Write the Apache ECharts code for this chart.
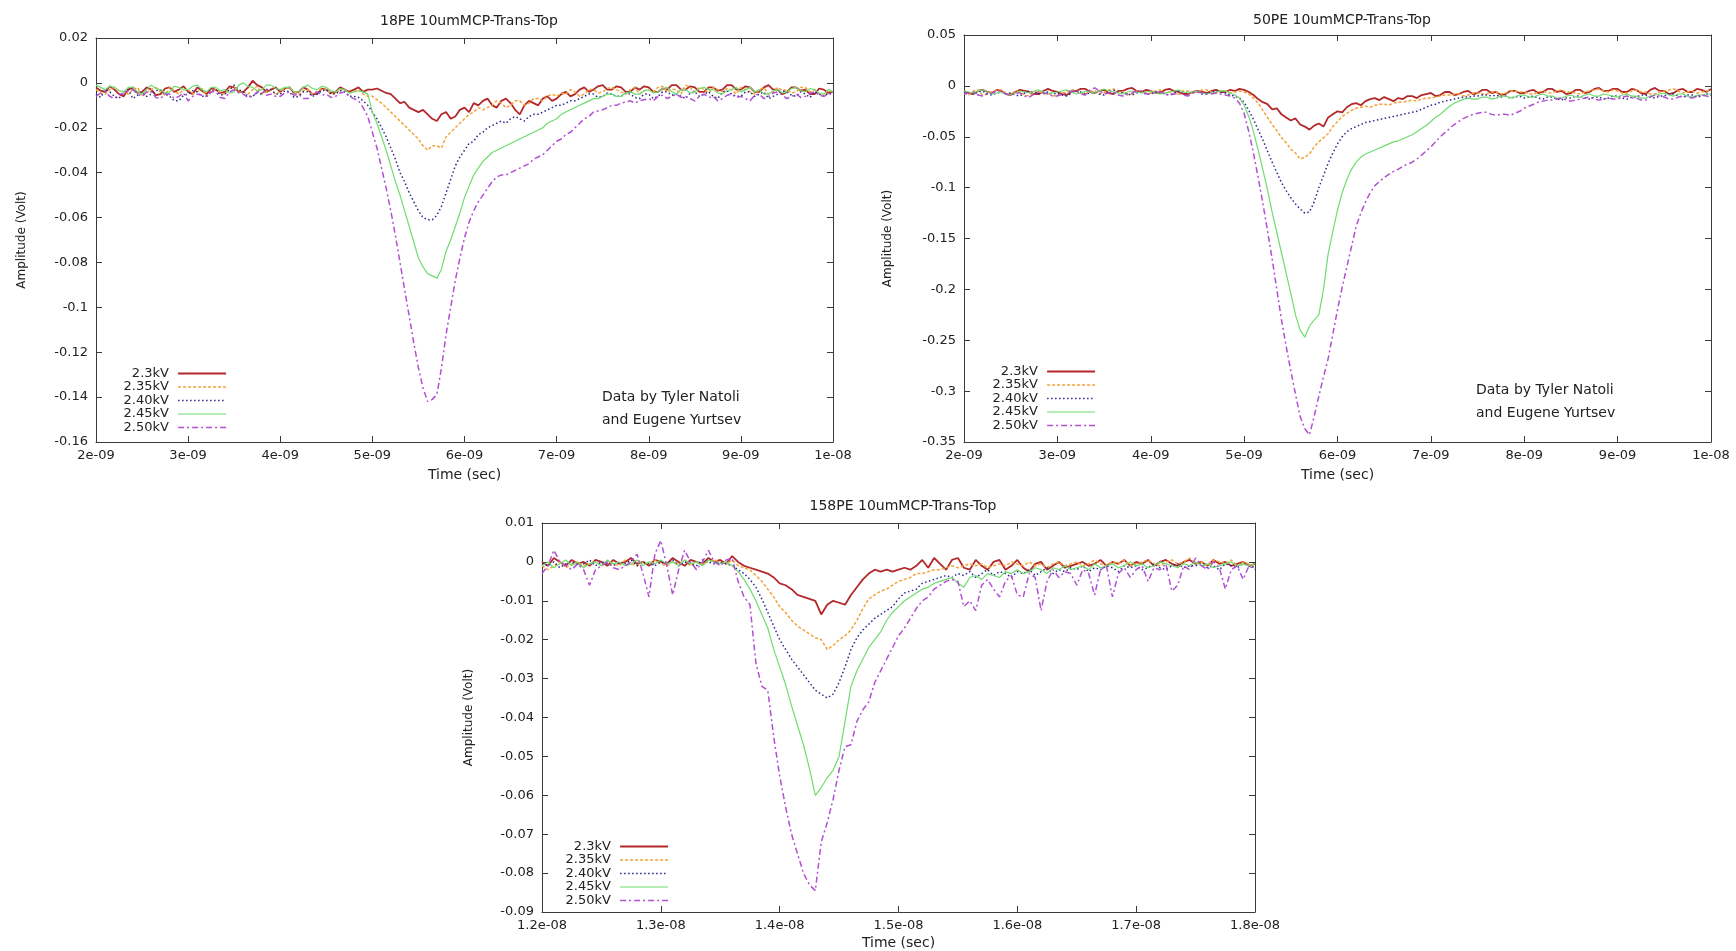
<!DOCTYPE html>
<html>
<head>
<meta charset="utf-8">
<title>10umMCP-Trans-Top pulses</title>
<script src="https://cdn.jsdelivr.net/npm/echarts@6/dist/echarts.min.js"></script>
<style>
  html, body { margin: 0; padding: 0; background: #fff; }
  #chart { width: 1736px; height: 951px; }
</style>
</head>
<body>
<div id="chart"></div>
<script>
// sample times in ns, amplitudes in mV
const timeTop = [2.00,2.05,2.10,2.15,2.20,2.25,2.30,2.35,2.40,2.45,2.50,2.55,2.60,2.65,2.70,2.75,2.80,2.85,2.90,2.95,
  3.00,3.05,3.10,3.15,3.20,3.25,3.30,3.35,3.40,3.45,3.50,3.55,3.60,3.65,3.70,3.75,3.80,3.85,3.90,3.95,
  4.00,4.05,4.10,4.15,4.20,4.25,4.30,4.35,4.40,4.45,4.50,4.55,4.60,4.65,4.70,4.75,4.80,4.85,4.90,4.95,
  5.00,5.05,5.10,5.15,5.20,5.25,5.30,5.35,5.40,5.45,5.50,5.55,5.60,5.65,5.70,5.75,5.80,5.85,5.90,5.95,
  6.00,6.05,6.10,6.15,6.20,6.25,6.30,6.35,6.40,6.45,6.50,6.55,6.60,6.65,6.70,6.75,6.80,6.85,6.90,6.95,
  7.00,7.05,7.10,7.15,7.20,7.25,7.30,7.35,7.40,7.45,7.50,7.55,7.60,7.65,7.70,7.75,7.80,7.85,7.90,7.95,
  8.00,8.05,8.10,8.15,8.20,8.25,8.30,8.35,8.40,8.45,8.50,8.55,8.60,8.65,8.70,8.75,8.80,8.85,8.90,8.95,
  9.00,9.05,9.10,9.15,9.20,9.25,9.30,9.35,9.40,9.45,9.50,9.55,9.60,9.65,9.70,9.75,9.80,9.85,9.90,9.95,10.00];

const timeBottom = [12.00,12.05,12.10,12.15,12.20,12.25,12.30,12.35,12.40,12.45,
  12.50,12.55,12.60,12.65,12.70,12.75,12.80,12.85,12.90,12.95,
  13.00,13.05,13.10,13.15,13.20,13.25,13.30,13.35,13.40,13.45,
  13.50,13.55,13.60,13.65,13.70,13.75,13.80,13.85,13.90,13.95,
  14.00,14.05,14.10,14.15,14.20,14.25,14.30,14.35,14.40,14.45,
  14.50,14.55,14.60,14.65,14.70,14.75,14.80,14.85,14.90,14.95,
  15.00,15.05,15.10,15.15,15.20,15.25,15.30,15.35,15.40,15.45,
  15.50,15.55,15.60,15.65,15.70,15.75,15.80,15.85,15.90,15.95,
  16.00,16.05,16.10,16.15,16.20,16.25,16.30,16.35,16.40,16.45,
  16.50,16.55,16.60,16.65,16.70,16.75,16.80,16.85,16.90,16.95,
  17.00,17.05,17.10,17.15,17.20,17.25,17.30,17.35,17.40,17.45,
  17.50,17.55,17.60,17.65,17.70,17.75,17.80,17.85,17.90,17.95,18.00];

const voltages = ['2.3kV', '2.35kV', '2.40kV', '2.45kV', '2.50kV'];

// 18PE
const pe18_230 = [-2,-3.5,-4,-1.5,-3,-5,-6,-3,-2,-4.5,
  -4,-2,-3,-5.5,-5,-2.5,-2,-4,-3,-1.5,
  -4,-5,-2,-3.5,-5,-2.5,-3,-4.5,-4,-1.5,
  -2,-4,-4,-2,1,-1,-2,-4,-3,-2,
  -4,-2.5,-2,-4.5,-4,-2,-3,-5,-5,-2.5,
  -3,-4.5,-4,-2,-3,-4,-3,-2,-4,-3,
  -3,-2.5,-3.5,-4.5,-5,-7,-9,-8.5,-11,-12,
  -13,-12,-14,-16,-17,-14,-13,-16,-15,-12,
  -11,-13,-9,-10,-8,-7,-10,-11,-8,-7,
  -9,-12,-14,-10,-8,-9,-10,-7,-6,-8,
  -7,-5,-4,-6,-5,-3,-2,-4,-3,-1.5,
  -1,-3,-3,-1.5,-2,-4,-4,-2,-3,-1.5,
  -2,-4,-4,-2.5,-3,-1,-1,-3,-3,-1.5,
  -2,-4,-4,-2,-2,-3.5,-3,-1,-1,-3,
  -3,-1.5,-2,-4,-4,-2,-1,-3,-3,-5,
  -4,-2,-2,-3.5,-3,-5,-5,-2.5,-3,-4.5,-4];
const pe18_235 = [-3,-4.5,-5,-3,-2,-3.5,-4,-5,-3,-2,
  -6,-4.5,-3,-2,-4,-5.5,-2,-3.5,-5,-3,
  -3,-5,-4,-2.5,-6,-4,-3,-4.5,-5,-2.5,
  -2,-3.5,-4,-5,-3,-1.5,-5,-4,-3,-5,
  -4,-2.5,-2,-4,-5,-3.5,-3,-5,-4,-2.5,
  -3,-4.5,-5,-3,-3,-4.5,-4,-3,-5,-6,
  -6,-7.5,-9,-11,-13,-15,-17,-19,-21,-23,
  -25,-28,-30,-28,-28,-29,-24,-22,-20,-18,
  -16,-14,-13,-11,-12,-11,-10,-8,-9,-11,
  -10,-8,-8,-10,-9,-7,-7,-8,-6,-5,
  -6,-4.5,-5,-3,-4,-6,-5,-3,-3,-4.5,
  -4,-2.5,-2,-3,-4,-5,-3,-2,-5,-3.5,
  -3,-4,-2,-1.5,-4,-3,-3,-5,-1,-2,
  -4,-2,-3,-4.5,-2,-3,-4,-2.5,-3,-5,
  -2,-3,-4,-5,-3,-2,-5,-4,-2,-3.5,
  -3,-4.5,-4,-2,-2,-4,-3,-5,-6,-4,-3];
const pe18_240 = [-5,-6.5,-3,-4,-6,-7,-4,-3,-7,-5.5,
  -4,-6,-5,-3.5,-3,-5,-6,-8,-8,-5.5,
  -5,-3.5,-4,-6,-6,-4,-3,-5.5,-5,-3,
  -1,-3,-4,-6,-6,-4.5,-5,-3,-3,-5,
  -5,-3.5,-4,-6.5,-6,-4,-4,-6,-5,-3.5,
  -3,-5,-5,-3.5,-4,-6,-6,-6.5,-8,-10,
  -13,-16,-20,-24,-29,-34,-40,-44,-49,-53,
  -57,-60,-61,-61,-59,-55,-49,-43,-37,-33,
  -30,-27,-26,-23,-22,-20,-19,-18,-17,-18,
  -16,-15,-16,-17,-15,-14,-14,-13,-12,-11,
  -10,-10,-9,-8,-8,-7,-6,-5,-5,-6.5,
  -6,-4.5,-5,-6,-6,-4.5,-5,-6.5,-7,-5,
  -5,-7,-6,-4,-4,-5.5,-5,-6,-7,-4.5,
  -4,-6,-5,-4,-6,-7,-4,-3.5,-5,-6,
  -6,-4,-4,-6,-5,-4,-7,-6,-5,-3.5,
  -4,-5.5,-6,-4,-5,-6.5,-4,-5,-6,-4.5,-5];
const pe18_245 = [-1,-2,-3,-1.5,-2,-3.5,-4,-2,-2,-4,
  -5,-3,-1,-2.5,-3,-4.5,-4,-1.5,-2,-3,
  -3,-1.5,-1,-3,-4,-2,-2,-3.5,-3,-4.5,
  -4,-1,0,-1.5,-2,-3.5,-3,-1,-1,-2.5,
  -3,-2,-2,-4,-4,-2,-1,-2.5,-3,-1.5,
  -2,-3.5,-4,-2.5,-3,-4.5,-4,-3.5,-4,-5,
  -13,-18,-24,-30,-37,-44,-50,-57,-64,-71,
  -78,-82,-85,-86,-87,-83,-75,-70,-64,-58,
  -51,-46,-41,-38,-35,-33,-31,-30,-29,-28,
  -27,-26,-25,-24,-23,-22,-21,-20,-18,-17,
  -16,-14,-13,-12,-11,-10,-9,-8,-7,-7,
  -6,-5,-5,-6,-6,-4.5,-4,-5,-5,-3.5,
  -3,-4.5,-4,-2.5,-2,-4,-5,-3,-3,-4.5,
  -4,-2.5,-2,-3,-3,-4.5,-5,-3.5,-3,-2,
  -4,-3,-2,-4,-3,-5,-5,-3.5,-3,-4.5,
  -4,-2.5,-2,-3.5,-4,-2.5,-3,-4.5,-5,-3,-4];
const pe18_250 = [-6,-4.5,-4,-6,-7,-5,-5,-3.5,-3,-5,
  -6,-4,-4,-6.5,-7,-5,-5,-7,-6,-4.5,
  -8,-6,-5,-5.5,-6,-4,-4,-6.5,-7,-4,
  -3,-4.5,-5,-6.5,-6,-4,-4,-5.5,-5,-6,
  -6,-4.5,-4,-5.5,-5,-7,-7,-5,-4,-5.5,
  -5,-6.5,-6,-4.5,-4,-6,-7,-8,-11,-15,
  -22,-29,-38,-47,-57,-68,-80,-92,-104,-116,
  -127,-136,-142,-141,-139,-127,-112,-100,-88,-78,
  -69,-62,-57,-53,-50,-47,-44,-42,-41,-41,
  -40,-39,-38,-37,-36,-34,-33,-32,-30,-28,
  -26,-25,-23,-22,-20,-18,-16,-15,-13,-12.5,
  -12,-11,-10,-10,-9,-8.5,-8,-9,-8,-7.5,
  -7,-8,-6,-5.5,-7,-6,-5,-6.5,-6,-7,
  -8,-6,-5,-6.5,-6,-8,-7,-5.5,-5,-6.5,
  -6,-7,-8,-5.5,-5,-7,-6,-4.5,-4,-5.5,
  -7,-6,-5,-6.5,-6,-4.5,-4,-5.5,-6,-5,-5];

// 50PE
const pe50_230 = [-5,-7,-8,-5,-4,-6,-7,-4,-5,-8,
  -9,-6,-4,-5,-6,-8,-8,-5,-3,-5,
  -6,-8,-9,-6,-5,-3,-3,-6,-7,-5,
  -4,-7,-8,-5,-5,-3,-2,-5,-6,-4,
  -5,-7,-7,-4,-3,-5,-6,-8,-8,-6,
  -5,-6,-7,-5,-4,-6,-6,-4,-5,-3,
  -4,-6,-9,-13,-16,-18,-23,-22,-28,-31,
  -34,-32,-38,-40,-43,-39,-37,-40,-31,-28,
  -25,-26,-21,-18,-17,-19,-15,-13,-12,-14,
  -11,-13,-15,-12,-13,-10,-10,-12,-9,-8,
  -7,-10,-9,-6,-6,-9,-8,-6,-5,-8,
  -7,-4,-4,-7,-6,-9,-8,-5,-5,-7,
  -7,-5,-4,-7,-6,-3,-3,-6,-5,-8,
  -7,-4,-4,-7,-6,-3,-2,-5,-5,-3,
  -3,-6,-6,-3,-4,-7,-8,-4,-2,-5,
  -5,-8,-7,-4,-3,-6,-6,-3,-4,-6,-3];
const pe50_235 = [-7,-9,-5,-4,-9,-8,-6,-4,-4,-7,
  -8,-5,-6,-9,-10,-7,-5,-8,-7,-10,
  -9,-7,-6,-4,-4,-7,-8,-5,-5,-8,
  -7,-4,-3,-6,-6,-9,-8,-5,-5,-7,
  -7,-5,-4,-7,-6,-8,-8,-5,-5,-7,
  -6,-4,-4,-6,-7,-5,-5,-7,-6,-5,
  -6,-8,-12,-17,-24,-31,-38,-44,-51,-56,
  -62,-66,-72,-70,-67,-60,-55,-51,-47,-40,
  -35,-30,-27,-24,-22,-21,-20,-21,-19,-18,
  -18,-19,-17,-16,-16,-15,-14,-15,-13,-12,
  -12,-11,-10,-9,-9,-8,-8,-10,-9,-7,
  -7,-8,-8,-6,-6,-8,-7,-5,-5,-6,
  -6,-8,-8,-6,-5,-7,-7,-5,-4,-6,
  -6,-7,-8,-6,-5,-4,-3,-5,-6,-4,
  -5,-7,-7,-5,-4,-6,-6,-8,-8,-6,
  -5,-4,-3,-5,-7,-6,-5,-7,-6,-5,-4];
const pe50_240 = [-6,-7,-8,-6,-5,-8,-9,-7,-6,-8,
  -7,-9,-10,-7,-5,-6,-8,-7,-6,-8,
  -7,-9,-10,-7,-5,-6,-8,-7,-6,-8,
  -9,-6,-4,-6,-7,-8,-9,-7,-6,-8,
  -8,-6,-6,-8,-9,-7,-5,-6,-7,-6,
  -6,-8,-8,-6,-5,-6,-7,-9,-10,-12,
  -16,-24,-33,-43,-53,-64,-75,-85,-95,-103,
  -110,-116,-121,-125,-124,-114,-100,-88,-76,-66,
  -57,-50,-45,-42,-40,-38,-36,-35,-34,-33,
  -32,-31,-30,-29,-28,-27,-26,-25,-23,-21,
  -19,-18,-16,-15,-14,-13,-12,-11,-11,-10,
  -10,-9,-9,-10,-9,-11,-10,-12,-11,-10,
  -12,-11,-10,-12,-13,-11,-11,-13,-14,-12,
  -12,-10,-10,-12,-13,-11,-11,-13,-12,-10,
  -10,-12,-13,-11,-11,-9,-9,-11,-12,-10,
  -10,-8,-8,-10,-11,-9,-9,-11,-10,-8,-9];
const pe50_245 = [-5,-6,-7,-5,-4,-6,-8,-7,-6,-8,
  -9,-7,-5,-6,-7,-5,-4,-6,-8,-7,
  -6,-5,-4,-6,-8,-7,-5,-6,-7,-5,
  -3,-5,-6,-7,-8,-6,-5,-6,-7,-6,
  -5,-7,-8,-7,-6,-5,-4,-6,-7,-6,
  -5,-7,-8,-7,-6,-5,-5,-7,-9,-12,
  -19,-30,-45,-63,-82,-102,-124,-144,-164,-184,
  -204,-225,-240,-247,-236,-230,-225,-200,-165,-143,
  -122,-105,-92,-82,-75,-70,-67,-65,-63,-61,
  -59,-57,-55,-54,-52,-50,-48,-45,-42,-39,
  -35,-31,-28,-24,-20,-17,-15,-13,-12,-13,
  -13,-11,-11,-13,-12,-10,-10,-12,-11,-9,
  -9,-11,-11,-9,-8,-10,-10,-12,-12,-10,
  -9,-11,-11,-9,-8,-10,-10,-8,-9,-10,
  -11,-9,-8,-10,-10,-12,-12,-10,-9,-8,
  -7,-9,-10,-8,-8,-10,-11,-9,-9,-8,-8];
const pe50_250 = [-8,-7,-6,-9,-10,-8,-7,-5,-5,-8,
  -9,-7,-7,-10,-11,-8,-6,-7,-8,-10,
  -10,-8,-7,-5,-5,-8,-9,-4,-2,-5,
  -8,-7,-6,-9,-10,-8,-7,-5,-5,-8,
  -8,-6,-6,-8,-9,-8,-7,-9,-10,-7,
  -6,-7,-8,-8,-7,-8,-9,-10,-12,-17,
  -27,-45,-66,-90,-115,-142,-170,-200,-230,-256,
  -280,-303,-325,-337,-343,-325,-305,-286,-268,-244,
  -220,-198,-178,-158,-138,-125,-114,-105,-98,-94,
  -90,-87,-84,-82,-79,-77,-75,-72,-68,-64,
  -60,-55,-50,-46,-42,-38,-35,-32,-30,-28,
  -27,-26,-26,-28,-29,-28,-28,-29,-27,-25,
  -22,-20,-18,-16,-15,-14,-14,-13,-12,-14,
  -15,-14,-13,-12,-11,-13,-14,-13,-12,-13,
  -13,-11,-10,-12,-12,-14,-14,-11,-9,-10,
  -11,-13,-13,-11,-10,-11,-12,-10,-9,-10,-11];

// 158PE
const pe158_230 = [0,-1,1,0,-1,0.5,-0.5,0,-1,0.5,
  0,-1,0.5,-0.5,0,1,-0.5,0,-1,0.5,
  0,-0.5,1,0,-1,0.5,0,-0.5,1,0,
  0.5,-0.5,1.5,0,-1,-1.5,-2,-2.5,-3,-4,
  -5.5,-6,-7,-8.5,-9,-9.5,-10,-13.5,-11,-10,
  -10.5,-11,-8.5,-6.5,-4.5,-3,-2,-2.5,-2,-2.5,
  -2,-1.5,-2,-1,0.5,-1.5,1,-0.5,-2,0.5,
  1,-1.5,-2,0.5,-1,-2,0,0.5,-2,-1,
  0.5,-1.5,-2.5,-0.5,0,-2,-1,0,-1.5,-1,
  -0.5,0,-1,-0.5,0.5,-1,0,-0.5,0.5,-1,
  0,-0.5,0.5,-1,0,0.5,-0.5,-1,0,0.5,
  -0.5,0,-1,0.5,-0.5,0,-1,-0.5,0,-1,-0.5];
const pe158_235 = [-1,-2,-1,0,-1.5,-0.5,0,-1,-0.5,0,
  -1,0,-0.5,-1,0.5,-0.5,-1,0,-0.5,0.5,
  -0.5,-1,0,-0.5,0.5,-1,0,-0.5,0,0.5,
  0,-0.5,0.5,-1,-1.5,-2,-3.5,-5,-7,-9,
  -11.5,-13,-15,-16.5,-17.5,-18.5,-19.5,-20,-22.5,-21.5,
  -20,-19,-17.5,-15,-12,-9.5,-8.5,-7.5,-7,-6,
  -5,-4.5,-4,-3,-3,-2.5,-2,-2,-1.5,-1,
  -1.5,-1,-0.5,-1,-0.5,-1.5,-1,-0.5,-1,0,
  -0.5,-1,0,-1,-0.5,-1.5,-0.5,0,-1,-0.5,
  0,-1,-0.5,0.5,-0.5,-1,0,-0.5,0.5,-1,
  -0.5,0,0.5,-0.5,-1,0,0.5,-0.5,0,1,
  -0.5,0,-1,0.5,0,-0.5,0.5,-1,0,-0.5,-1];
const pe158_240 = [-0.5,-1,0,-1.5,-0.5,0,-1,-0.5,0.5,-1,
  0,-0.5,-1,0,-0.5,0.5,-1,0,-0.5,-1,
  0,-0.5,0.5,-1,0,-0.5,-1,0.5,0,-0.5,
  0,-0.5,-1,-2,-3,-4.5,-6.5,-9.5,-13,-16.5,
  -20,-22.5,-25,-27,-29,-31,-33,-34,-35,-34,
  -31,-27,-22.5,-19.5,-17.5,-16,-14.5,-13.5,-12.5,-11.5,
  -9.5,-8,-7.5,-7,-5.5,-5,-4.5,-4,-3.5,-4,
  -3,-3.5,-2.5,-4,-3,-2,-3.5,-2.5,-3,-4,
  -2.5,-3,-2,-3.5,-2.5,-1.5,-3,-2,-2.5,-1.5,
  -2,-1,-2.5,-1.5,-2,-1,-1.5,-2.5,-1,-1.5,
  -1,-2,-1.5,-0.5,-1.5,-2,-1,-0.5,-1.5,-1,
  -1,-0.5,-1.5,-1,-2,-0.5,-1,-1.5,-0.5,-1,-1.5];
const pe158_245 = [-1,0,-1.5,-0.5,0.5,-1,0,-1.5,-0.5,0,
  -1,0.5,-0.5,0,-1,-0.5,0.5,-1,0,-0.5,
  0.5,-0.5,0,-1,0.5,-0.5,0,-1,0.5,0,
  -0.5,0,-1,-2.5,-4.5,-7,-10,-13.5,-17,-22.5,
  -27,-31.5,-37,-42,-47,-53,-60,-58,-55.5,-53.5,
  -50,-41,-32,-28,-25,-22,-20,-18,-15,-13,
  -11.5,-10,-9,-8,-7,-6.5,-5.5,-5,-4.5,-4,
  -5.5,-6.5,-4,-3.5,-4.5,-3,-3.5,-4,-2.5,-3,
  -2,-3,-2.5,-1.5,-2,-3,-1.5,-2,-1,-2,
  -1.5,-1,-2,-0.5,-1.5,-1,-0.5,-1.5,-1,0,
  -1,-0.5,-1.5,-1,0,-0.5,-1,-1.5,-0.5,-1,
  0,-1,-0.5,-1.5,-1,-0.5,0,-1,-0.5,-1,-0.5];
const pe158_250 = [-3,-1,3,0,-1,-2,-0.5,-2,-6,-2,
  -1,0,-1.5,-2,-1,0,2,-3,-9,2,
  5.5,-1,-8.5,-2,3,0,-2,0,3,0,
  -1,0.5,1,-5,-9,-11,-26,-32,-33,-45,
  -55,-63,-70,-75,-80,-83,-84.5,-72,-67,-61,
  -53.5,-47.5,-47,-41,-38,-36,-31,-28,-25,-22,
  -19,-17,-14.5,-12,-10,-9,-7,-6,-5,-4.5,
  -5,-11.5,-10,-12.5,-6,-4.5,-7,-9,-5,-3.5,
  -8.5,-9,-3,-4,-12.5,-5,-2,-4,-2.5,-3,
  -6,-2,-3,-8.5,-2,-1,-9,-3,-1.5,-4,
  -2,-1,-5,-1.5,-2,-0.5,-7.5,-6,-1,-2,
  1,-1,-2,0,-1.5,-7,-2,-1,-4.5,-1,-2];

// gnuplot-like line styles, one per voltage
const lineStyles = [
  { color: '#b3282a', width: 1.8, type: 'solid' },
  { color: '#f4a236', width: 1.5, type: [3, 2] },
  { color: '#262a8e', width: 1.5, type: [1.5, 2.5] },
  { color: '#6fdc6f', width: 1.2, type: 'solid' },
  { color: '#b24fd2', width: 1.5, type: [6, 3, 2, 3] }
];

const panels = [
  {
    title: '18PE 10umMCP-Trans-Top', time: timeTop,
    values: [pe18_230, pe18_235, pe18_240, pe18_245, pe18_250],
    grid: { left: 96, top: 38, width: 737, height: 404 },
    x: [2, 10, 1], y: [-160, 20, 20],
    titleX: 464, titleTop: 9, yNameGap: 68, xNameGap: 26,
    legend: { right: 1509, top: 367 }, note: [602, 398]
  },
  {
    title: '50PE 10umMCP-Trans-Top', time: timeTop,
    values: [pe50_230, pe50_235, pe50_240, pe50_245, pe50_250],
    grid: { left: 964, top: 35, width: 747, height: 407 },
    x: [2, 10, 1], y: [-350, 50, 50],
    titleX: 1337, titleTop: 8, yNameGap: 70, xNameGap: 26,
    legend: { right: 640, top: 365 }, note: [1476, 391]
  },
  {
    title: '158PE 10umMCP-Trans-Top', time: timeBottom,
    values: [pe158_230, pe158_235, pe158_240, pe158_245, pe158_250],
    grid: { left: 542, top: 523, width: 713, height: 389 },
    x: [12, 18, 1], y: [-90, 10, 10],
    titleX: 898, titleTop: 494, yNameGap: 67, xNameGap: 24,
    legend: { right: 1067, top: 840 }, note: null
  }
];

const FONT = 'DejaVu Sans';
const frame = { color: '#3a3a3a', width: 1 };

function fmtTime(v) {
  const s = Number((v * 1e-9).toPrecision(6)).toExponential();
  return s.replace(/e([+-])(\d)$/, 'e$10$2');
}
function fmtVolt(v) {
  return String(Number((v / 1000).toFixed(4)));
}

const grids = [], xAxes = [], yAxes = [], series = [], titles = [], legends = [], graphics = [];

panels.forEach((p, k) => {
  grids.push(Object.assign({ containLabel: false }, p.grid));

  const xBase = {
    type: 'value', gridIndex: k, min: p.x[0], max: p.x[1], interval: p.x[2],
    axisLine: { show: true, onZero: false, lineStyle: frame },
    axisTick: { show: true, inside: true, length: 6, lineStyle: frame },
    splitLine: { show: false }
  };
  xAxes.push(Object.assign({}, xBase, {
    position: 'bottom',
    axisLabel: { formatter: fmtTime, margin: 7, color: '#222', fontSize: 13, fontFamily: FONT },
    name: 'Time (sec)', nameLocation: 'middle', nameGap: p.xNameGap,
    nameTextStyle: { color: '#222', fontSize: 14, fontFamily: FONT }
  }));
  xAxes.push(Object.assign({}, xBase, { position: 'top', axisLabel: { show: false } }));

  const yBase = {
    type: 'value', gridIndex: k, min: p.y[0], max: p.y[1], interval: p.y[2],
    axisLine: { show: true, onZero: false, lineStyle: frame },
    axisTick: { show: true, inside: true, length: 6, lineStyle: frame },
    splitLine: { show: false }
  };
  yAxes.push(Object.assign({}, yBase, {
    position: 'left',
    axisLabel: { formatter: fmtVolt, margin: 8, color: '#222', fontSize: 13, fontFamily: FONT },
    name: 'Amplitude (Volt)', nameLocation: 'middle', nameGap: p.yNameGap,
    nameTextStyle: { color: '#222', fontSize: 12, fontFamily: FONT }
  }));
  yAxes.push(Object.assign({}, yBase, { position: 'right', axisLabel: { show: false } }));

  p.values.forEach((vals, i) => {
    series.push({
      type: 'line', name: voltages[i],
      xAxisIndex: 2 * k, yAxisIndex: 2 * k,
      symbol: 'none', showSymbol: false, smooth: false,
      lineStyle: lineStyles[i], itemStyle: { color: lineStyles[i].color },
      emphasis: { disabled: true },
      data: p.time.map((t, j) => [t, vals[j]])
    });
  });

  titles.push({
    text: p.title, left: p.titleX, top: p.titleTop, textAlign: 'center',
    textStyle: { color: '#222', fontSize: 14, fontWeight: 'normal', fontFamily: FONT }
  });

  legends.push({
    data: voltages, orient: 'vertical', align: 'right',
    right: p.legend.right, top: p.legend.top, padding: 0, itemGap: 0.5,
    itemWidth: 48, itemHeight: 10, selectedMode: false,
    formatter: name => name + ' ',
    itemStyle: { opacity: 0 },
    lineStyle: { width: 'inherit' },
    textStyle: { color: '#222', fontSize: 13, lineHeight: 13, fontFamily: FONT }
  });

  if (p.note) {
    ['Data by Tyler Natoli', 'and Eugene Yurtsev'].forEach((line, n) => {
      graphics.push({
        type: 'text', left: p.note[0], top: p.note[1] - 8 + n * 23,
        style: { text: line, fill: '#222', fontSize: 14, fontFamily: FONT }
      });
    });
  }
});

const chart = echarts.init(document.getElementById('chart'));
chart.setOption({
  backgroundColor: '#fff',
  animation: false,
  title: titles,
  legend: legends,
  grid: grids,
  xAxis: xAxes,
  yAxis: yAxes,
  graphic: graphics,
  series: series
});
</script>
</body>
</html>
